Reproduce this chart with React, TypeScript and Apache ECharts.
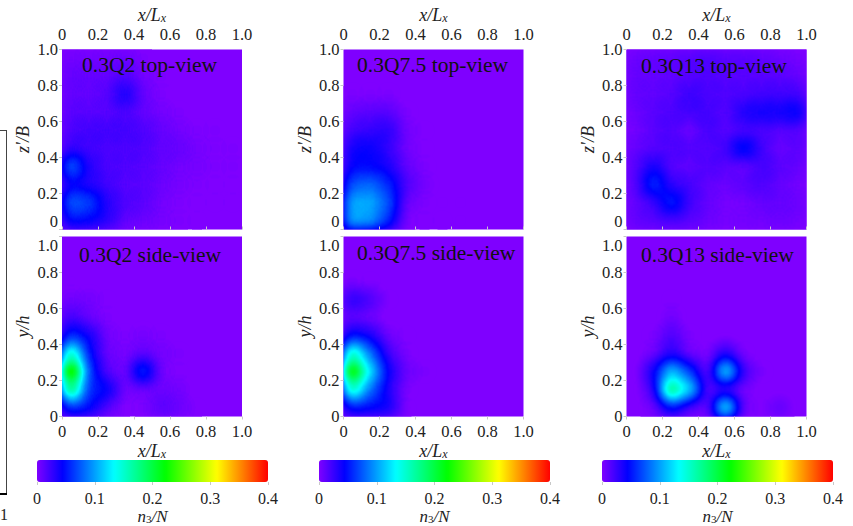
import React, { useEffect, useRef } from "react";
import * as echarts from "echarts";

const FONT = "Liberation Serif";
const sampleX = [0.05, 0.15, 0.25, 0.35, 0.45, 0.55, 0.65, 0.75, 0.85, 0.95];
const sampleY = [0.95, 0.85, 0.75, 0.65, 0.55, 0.45, 0.35, 0.25, 0.15, 0.05];
const rampColors = ["#7f00ff", "#0000ff", "#0080ff", "#00ffff", "#00ff80", "#00ff00", "#80ff00", "#ffff00", "#ff8000", "#ff0000"];

const q2Top = [
  [.01, .01, .01, .012, .005, 0, 0, 0, 0, 0],
  [.015, .015, .015, .025, .01, .005, 0, 0, 0, 0],
  [.015, .015, .02, .05, .015, .005, 0, 0, 0, 0],
  [.02, .02, .02, .025, .015, .01, .005, 0, 0, 0],
  [.025, .03, .03, .03, .025, .015, .01, .005, .005, 0],
  [.035, .03, .025, .025, .025, .015, .015, .008, .005, .005],
  [.1, .04, .025, .025, .02, .015, .01, .008, .005, .005],
  [.05, .04, .03, .02, .02, .012, .008, .005, .003, .003],
  [.095, .085, .04, .025, .02, .01, .005, .003, .003, .003],
  [.06, .055, .04, .015, .012, .008, .005, .003, 0, 0],
];
const q2Side = [
  [0, 0, 0, 0, 0, 0, 0, 0, 0, 0],
  [0, 0, 0, 0, 0, 0, 0, 0, 0, 0],
  [.002, 0, 0, 0, 0, 0, 0, 0, 0, 0],
  [.01, .01, .003, 0, 0, 0, 0, 0, 0, 0],
  [.03, .012, .005, 0, 0, 0, 0, 0, 0, 0],
  [.07, .05, .01, .005, .008, .005, 0, 0, 0, 0],
  [.2, .06, .012, .008, .015, .01, .005, 0, 0, 0],
  [.34, .08, .02, .01, .085, .008, .003, 0, 0, 0],
  [.24, .07, .06, .01, .01, .012, .01, 0, 0, 0],
  [.07, .06, .02, .003, .005, .02, .012, .003, 0, 0],
];
const q75Top = [
  [0, 0, 0, 0, 0, 0, 0, 0, 0, 0],
  [0, 0, 0, 0, 0, 0, 0, 0, 0, 0],
  [.005, .005, .005, 0, 0, 0, 0, 0, 0, 0],
  [.015, .02, .02, .005, 0, 0, 0, 0, 0, 0],
  [.03, .035, .04, .01, .003, 0, 0, 0, 0, 0],
  [.05, .055, .035, .01, .003, 0, 0, 0, 0, 0],
  [.055, .055, .045, .015, .005, 0, 0, 0, 0, 0],
  [.09, .10, .07, .025, .008, 0, 0, 0, 0, 0],
  [.13, .13, .09, .012, .005, .002, .002, 0, 0, 0],
  [.13, .12, .07, .005, .003, .003, .002, 0, 0, 0],
];
const q75Side = [
  [0, 0, 0, 0, 0, 0, 0, 0, 0, 0],
  [0, 0, 0, 0, 0, 0, 0, 0, 0, 0],
  [.005, .003, 0, 0, 0, 0, 0, 0, 0, 0],
  [.04, .025, .003, 0, 0, 0, 0, 0, 0, 0],
  [.015, .01, 0, 0, 0, 0, 0, 0, 0, 0],
  [.06, .045, .01, .003, 0, 0, 0, 0, 0, 0],
  [.2, .1, .03, .005, 0, 0, 0, 0, 0, 0],
  [.32, .15, .05, .012, .004, 0, 0, 0, 0, 0],
  [.2, .1, .04, .005, 0, 0, 0, 0, 0, 0],
  [.06, .055, .05, .003, 0, 0, 0, 0, 0, 0],
];
const q13Top = [
  [.012, .015, .018, .02, .025, .02, .02, .018, .012, .008],
  [.015, .015, .018, .02, .025, .02, .02, .02, .02, .015],
  [.015, .018, .02, .035, .025, .025, .025, .03, .03, .03],
  [.012, .02, .025, .03, .03, .02, .045, .05, .05, .06],
  [.01, .02, .025, .01, .03, .02, .025, .025, .02, .02],
  [.015, .02, .025, .025, .02, .03, .07, .03, .012, .02],
  [.02, .05, .02, .015, .025, .02, .012, .03, .02, .015],
  [.02, .08, .035, .03, .015, .012, .02, .025, .015, .01],
  [.015, .03, .075, .03, .015, .008, .008, .015, .015, .012],
  [.015, .02, .025, .02, .012, .008, .01, .01, .012, .01],
];
const q13Side = [
  [0, 0, 0, 0, 0, 0, 0, 0, 0, 0],
  [0, 0, 0, 0, 0, 0, 0, 0, 0, 0],
  [0, 0, 0, 0, 0, 0, 0, 0, 0, 0],
  [0, 0, .003, 0, 0, 0, 0, 0, 0, 0],
  [0, 0, .01, 0, 0, 0, 0, 0, 0, 0],
  [0, .005, .025, .005, 0, 0, 0, 0, 0, 0],
  [0, .01, .04, .01, .005, .04, .005, 0, 0, 0],
  [0, .05, .14, .08, .01, .16, .03, .005, 0, 0],
  [0, .03, .24, .15, .02, .02, .01, 0, 0, 0],
  [0, .01, .06, .02, .01, .17, .01, .003, .015, 0],
];

const panelTitles = [
  ["0.3Q2 top-view", "0.3Q2 side-view"],
  ["0.3Q7.5 top-view", "0.3Q7.5 side-view"],
  ["0.3Q13 top-view", "0.3Q13 side-view"],
];
const panelValues = [
  [q2Top, q2Side],
  [q75Top, q75Side],
  [q13Top, q13Side],
];

const columnLeft = [62, 343.5, 626.5];
const barLeft = [37, 319, 602];
const titleLeft = [[82, 79], [357, 357], [641, 641]];
const titleMiddle = [[66, 256], [66, 254], [67, 256]];
const PANEL = 180;
const rowTop = [49.5, 236.5];

const squareMap = {
  type: "FeatureCollection",
  features: [
    {
      type: "Feature",
      properties: { name: "square" },
      geometry: { type: "Polygon", coordinates: [[[0, 0], [1, 0], [1, 1], [0, 1], [0, 0]]] },
    },
  ],
};

const nameRich = {
  i: { fontFamily: FONT, fontStyle: "italic", fontSize: 18, color: "#222" },
  s: { fontFamily: FONT, fontStyle: "italic", fontSize: 12, color: "#222", verticalAlign: "bottom", padding: [6, 0, 0, 0] },
};
const barNameRich = {
  i: { fontFamily: FONT, fontStyle: "italic", fontSize: 17, color: "#222" },
  n: { fontFamily: FONT, fontSize: 11, color: "#222", padding: [4, 0, 0, 0] },
};

function App() {
  const ref = useRef<HTMLDivElement>(null);
  useEffect(() => {
    echarts.registerMap("square", { geoJSON: squareMap } as any);
    const chart = echarts.init(ref.current!, null, { renderer: "svg" });

    const geo: any[] = [];
    const grid: any[] = [];
    const xAxis: any[] = [];
    const yAxis: any[] = [];
    const series: any[] = [];
    const visualMap: any[] = [];
    const graphic: any[] = [];

    const label = { fontFamily: FONT, fontSize: 16.5, color: "#222", margin: 4 };
    const tick = { show: true, length: 3, lineStyle: { color: "#c8c8c8", width: 1 } };
    const fmt = (v: number) => (v === 0 ? "0" : v.toFixed(1));

    columnLeft.forEach((left, c) => {
      const seriesIdx: number[] = [];
      rowTop.forEach((top, r) => {
        const geoIdx = geo.length;
        const gridIdx = grid.length;
        geo.push({
          map: "square",
          left,
          top,
          width: PANEL,
          height: PANEL,
          aspectScale: 1,
          boundingCoords: [[0, 1], [1, 0]],
          silent: true,
          itemStyle: { areaColor: "#7f00ff", borderWidth: 0 },
          label: { show: false },
          z: 1,
        });
        grid.push({ left, top, width: PANEL, height: PANEL, show: false, outerBoundsMode: "none" });
        xAxis.push({
          type: "value",
          gridIndex: gridIdx,
          min: 0,
          max: 1,
          interval: 0.2,
          position: r === 0 ? "top" : "bottom",
          name: "{i|x}{i|/L}{s|x}",
          nameLocation: "middle",
          nameGap: r === 0 ? 26 : 25,
          nameTextStyle: { rich: nameRich },
          axisLine: { show: false },
          axisTick: tick,
          splitLine: { show: false },
          axisLabel: { ...label, margin: r === 0 ? 7 : 6, formatter: fmt },
          z: 5,
        });
        yAxis.push({
          type: "value",
          gridIndex: gridIdx,
          min: 0,
          max: 1,
          interval: 0.2,
          name: r === 0 ? "{i|z'/B}" : "{i|y/h}",
          nameLocation: "middle",
          nameGap: 30,
          nameTextStyle: { rich: nameRich },
          axisLine: { show: false },
          axisTick: tick,
          splitLine: { show: false },
          axisLabel: {
            ...label,
            formatter: fmt,
            verticalAlignMinLabel: r === 0 ? "bottom" : undefined,
            verticalAlignMaxLabel: r === 1 ? "top" : undefined,
          },
          z: 5,
        });
        const values = panelValues[c][r];
        const data: number[][] = [];
        values.forEach((row, j) =>
          row.forEach((v, i) => {
            if (v > 0) data.push([sampleX[i], sampleY[j], v]);
          })
        );
        seriesIdx.push(series.length);
        series.push({
          type: "heatmap",
          coordinateSystem: "geo",
          geoIndex: geoIdx,
          data,
          pointSize: 10,
          blurSize: 15,
          minOpacity: 1,
          maxOpacity: 1,
          silent: true,
          z: 2,
        });
        graphic.push({
          type: "text",
          left: titleLeft[c][r],
          top: titleMiddle[c][r] - 12,
          z: 20,
          style: { text: panelTitles[c][r], fontFamily: FONT, fontSize: 21.5, fill: "#111" },
        });
      });

      visualMap.push({
        type: "continuous",
        min: 0,
        max: 0.4,
        orient: "horizontal",
        left: barLeft[c],
        top: 460,
        itemWidth: 22,
        itemHeight: 231,
        padding: 0,
        calculable: false,
        hoverLink: false,
        realtime: false,
        showLabel: false,
        text: ["", ""],
        textGap: 0,
        seriesIndex: seriesIdx,
        inRange: { color: rampColors },
      });

      const barIdx = grid.length;
      grid.push({ left: barLeft[c], top: 460, width: 231, height: 22, show: false, outerBoundsMode: "none" });
      xAxis.push({
        type: "value",
        gridIndex: barIdx,
        min: 0,
        max: 0.4,
        interval: 0.1,
        position: "bottom",
        name: "{i|n}{n|3}{i|/N}",
        nameLocation: "middle",
        nameGap: 26,
        nameTextStyle: { rich: barNameRich },
        axisLine: { show: false },
        axisTick: tick,
        splitLine: { show: false },
        axisLabel: { ...label, fontSize: 16, margin: 8, formatter: fmt },
      });
      yAxis.push({ type: "value", gridIndex: barIdx, min: 0, max: 1, show: false });
    });

    graphic.push(
      { type: "line", shape: { x1: 0, y1: 130.5, x2: 6.5, y2: 130.5 }, style: { stroke: "#444", lineWidth: 1 } },
      { type: "line", shape: { x1: 6.5, y1: 130, x2: 6.5, y2: 494 }, style: { stroke: "#444", lineWidth: 1 } },
      { type: "line", shape: { x1: 0, y1: 494, x2: 7, y2: 494 }, style: { stroke: "#000", lineWidth: 2 } },
      { type: "text", left: 0, top: 506, style: { text: "1", fontFamily: FONT, fontSize: 16, fill: "#222" } }
    );

    chart.setOption({
      animation: false,
      backgroundColor: "#fff",
      geo,
      grid,
      xAxis,
      yAxis,
      series,
      visualMap,
      graphic,
    });
    return () => chart.dispose();
  }, []);
  return <div ref={ref} style={{ width: 853, height: 526, position: "absolute", left: 0, top: 0 }} />;
}

export default App;
